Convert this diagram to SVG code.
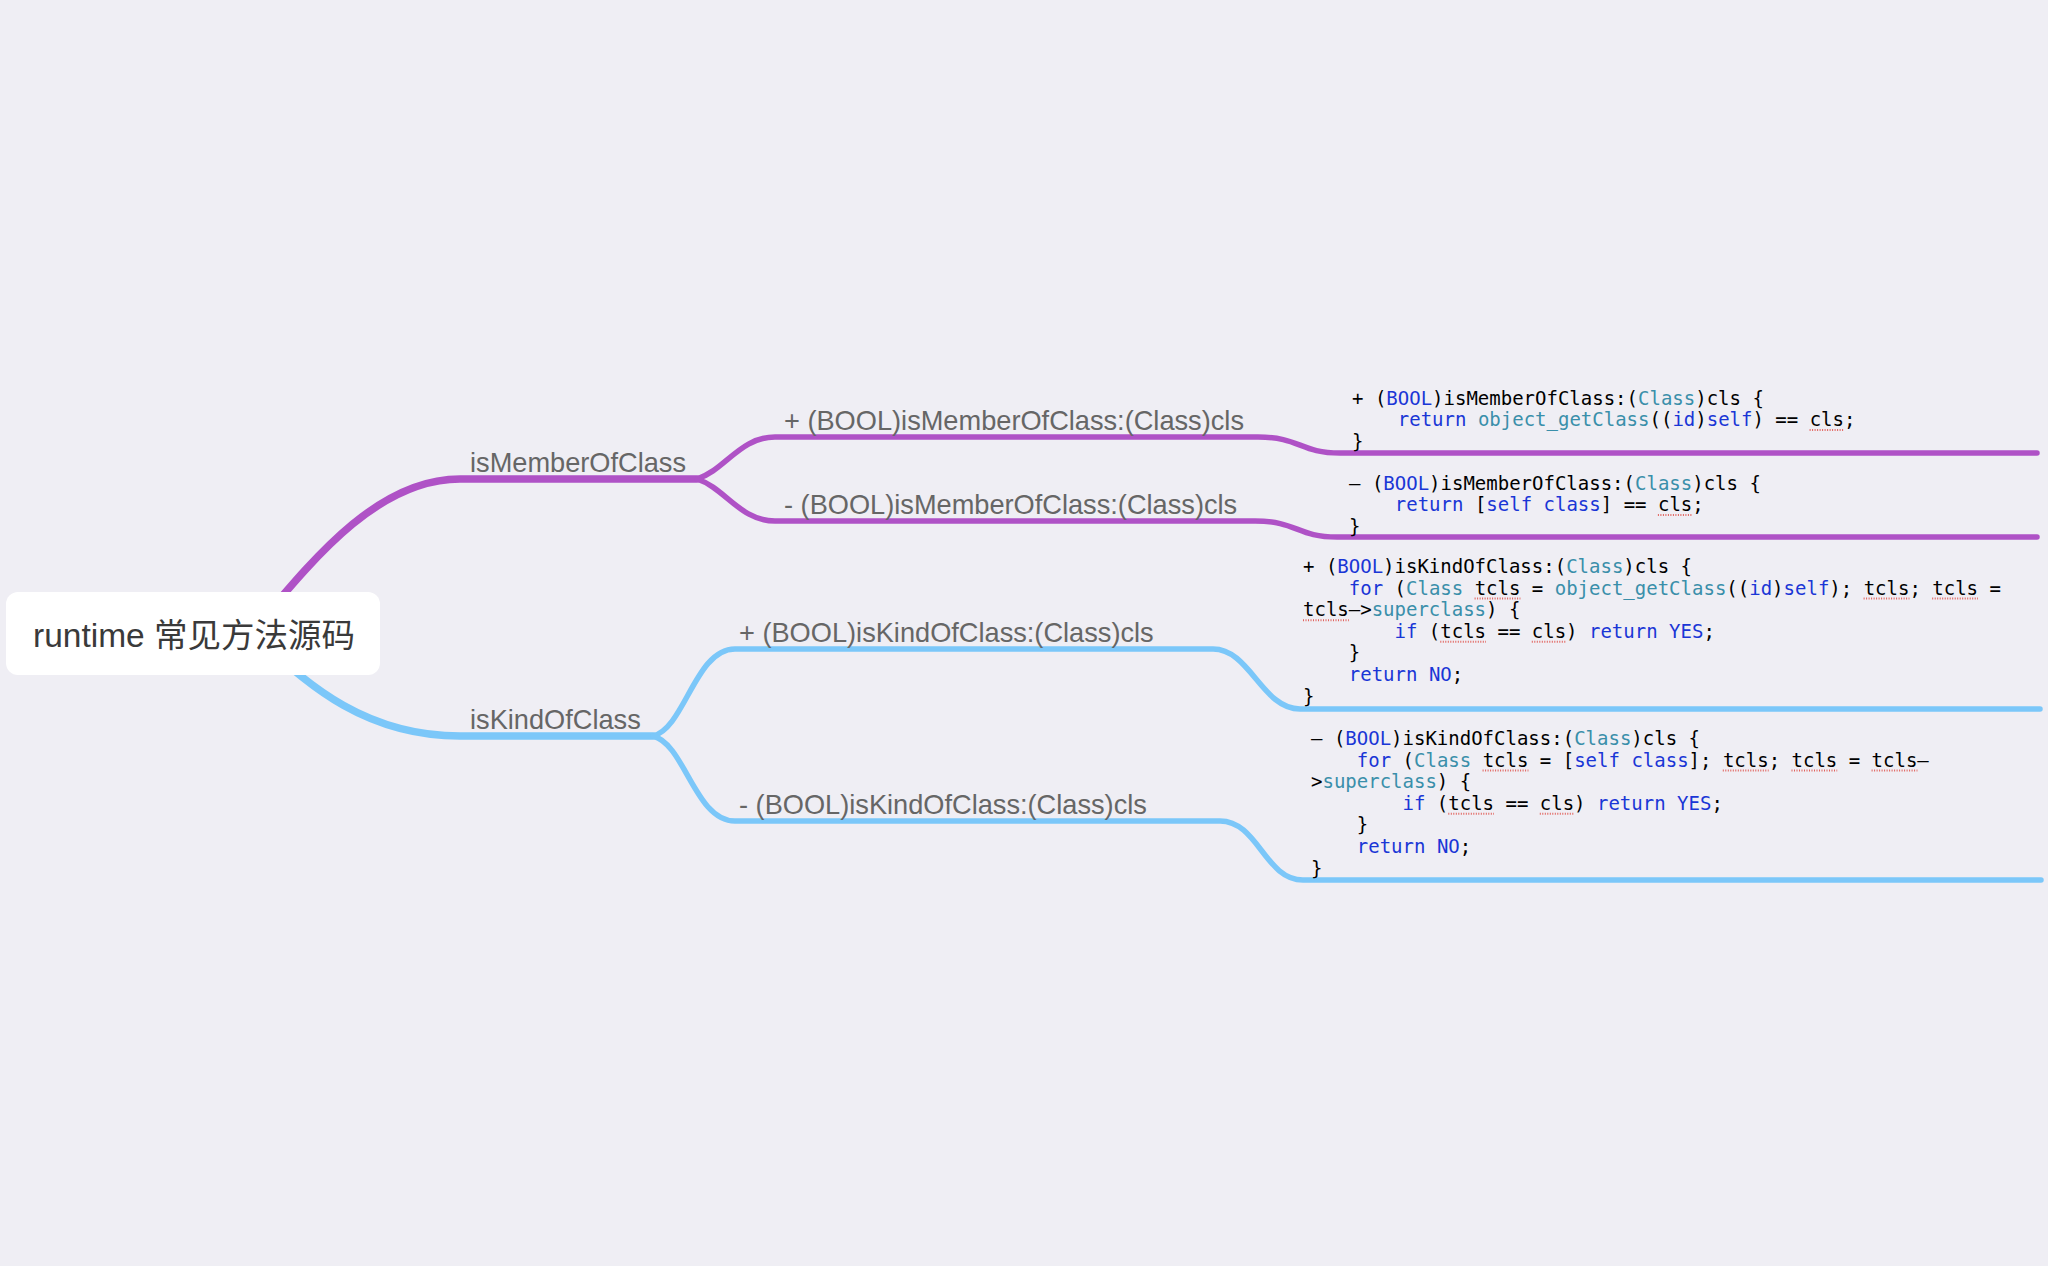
<svg xmlns="http://www.w3.org/2000/svg" width="2048" height="1266" viewBox="0 0 2048 1266">
<style>
.bg{fill:#EFEEF4}
.lp{fill:none;stroke:#AF52C6;stroke-linecap:round;stroke-linejoin:round}
.lb{fill:none;stroke:#7BC7F9;stroke-linecap:round;stroke-linejoin:round}
.main{stroke-width:7.5}
.sub{stroke-width:5.5}
.lbl{font-family:"Liberation Sans",Arial,sans-serif;font-size:27.2px;fill:#666666}
.root{font-family:"Liberation Sans","Noto Sans CJK SC",sans-serif;font-size:33.5px;fill:#3a3a3a}
.code{font-family:"DejaVu Sans Mono","Liberation Mono",monospace;font-size:19px;fill:#000000;white-space:pre}
.k{fill:#1A36D6}
.t{fill:#3A8FAA}
.sp{stroke:#E2625C;stroke-width:2;stroke-dasharray:1 1.5;fill:none}
</style>
<rect class="bg" x="0" y="0" width="2048" height="1266"/>
<g id="connectors">
<path class="lp main" d="M 245 640 C 305 570, 372 479, 460 479 L 697 479"/>
<path class="lb main" d="M 250 630 C 310 690, 370 736, 460 736 L 653 736"/>
<path class="lp sub" d="M 697 479 C 725 470, 740 437, 775 437 L 1258 437 C 1300 437, 1300 453, 1340 453 L 2037 453"/>
<path class="lp sub" d="M 697 479 C 725 488, 740 521, 775 521 L 1255 521 C 1297 521, 1297 537, 1337 537 L 2037 537"/>
<path class="lb sub" d="M 653 736 C 685 728, 695 649, 735 649 L 1213 649 C 1250 649, 1262 709, 1300 709 L 2040 709"/>
<path class="lb sub" d="M 653 736 C 685 744, 695 821, 735 821 L 1220 821 C 1258 821, 1265 880, 1303 880 L 2041 880"/>
</g>
<g id="root">
<rect x="6" y="592" width="374" height="83" rx="12" ry="12" fill="#FFFFFF"/>
<text class="root" x="33" y="647">runtime 常见方法源码</text>
</g>
<g id="isMemberOfClass">
<text class="lbl" x="470" y="472">isMemberOfClass</text>
</g>
<g id="isKindOfClass">
<text class="lbl" x="470" y="729">isKindOfClass</text>
</g>
<g id="plusMember">
<text class="lbl" x="784" y="430">+ (BOOL)isMemberOfClass:(Class)cls</text>
</g>
<g id="minusMember">
<text class="lbl" x="784" y="514">- (BOOL)isMemberOfClass:(Class)cls</text>
</g>
<g id="plusKind">
<text class="lbl" x="739" y="642">+ (BOOL)isKindOfClass:(Class)cls</text>
</g>
<g id="minusKind">
<text class="lbl" x="739" y="814">- (BOOL)isKindOfClass:(Class)cls</text>
</g>
<g id="codePlusMember">
<text class="code" x="1352" y="404.5">+ (<tspan class="k">BOOL</tspan>)isMemberOfClass:(<tspan class="t">Class</tspan>)cls {</text>
<text class="code" x="1397.8" y="426"><tspan class="k">return</tspan> <tspan class="t">object_getClass</tspan>((<tspan class="k">id</tspan>)<tspan class="k">self</tspan>) == cls;</text>
<text class="code" x="1352" y="447.5">}</text>
<path class="sp" d="M 1809.6 430 H 1843.9"/>
</g>
<g id="codeMinusMember">
<text class="code" x="1349" y="489.5">– (<tspan class="k">BOOL</tspan>)isMemberOfClass:(<tspan class="t">Class</tspan>)cls {</text>
<text class="code" x="1394.8" y="511"><tspan class="k">return</tspan> [<tspan class="k">self</tspan> <tspan class="k">class</tspan>] == cls;</text>
<text class="code" x="1349" y="532.5">}</text>
<path class="sp" d="M 1657.9 515 H 1692.2"/>
</g>
<g id="codePlusKind">
<text class="code" x="1303" y="573">+ (<tspan class="k">BOOL</tspan>)isKindOfClass:(<tspan class="t">Class</tspan>)cls {</text>
<text class="code" x="1348.8" y="594.6"><tspan class="k">for</tspan> (<tspan class="t">Class</tspan> tcls = <tspan class="t">object_getClass</tspan>((<tspan class="k">id</tspan>)<tspan class="k">self</tspan>); tcls; tcls =</text>
<text class="code" x="1303" y="616.2">tcls–&gt;<tspan class="t">superclass</tspan>) {</text>
<text class="code" x="1394.5" y="637.8"><tspan class="k">if</tspan> (tcls == cls) <tspan class="k">return</tspan> <tspan class="k">YES</tspan>;</text>
<text class="code" x="1348.8" y="659.4">}</text>
<text class="code" x="1348.8" y="681"><tspan class="k">return</tspan> <tspan class="k">NO</tspan>;</text>
<text class="code" x="1303" y="702.6">}</text>
<path class="sp" d="M 1474.6 598.6 H 1520.4 M 1863.6 598.6 H 1909.4 M 1932.2 598.6 H 1978 M 1303 620.2 H 1348.8 M 1440.3 641.8 H 1486 M 1531.8 641.8 H 1566.1"/>
</g>
<g id="codeMinusKind">
<text class="code" x="1311" y="745">– (<tspan class="k">BOOL</tspan>)isKindOfClass:(<tspan class="t">Class</tspan>)cls {</text>
<text class="code" x="1356.8" y="766.6"><tspan class="k">for</tspan> (<tspan class="t">Class</tspan> tcls = [<tspan class="k">self</tspan> <tspan class="k">class</tspan>]; tcls; tcls = tcls–</text>
<text class="code" x="1311" y="788.2">&gt;<tspan class="t">superclass</tspan>) {</text>
<text class="code" x="1402.5" y="809.8"><tspan class="k">if</tspan> (tcls == cls) <tspan class="k">return</tspan> <tspan class="k">YES</tspan>;</text>
<text class="code" x="1356.8" y="831.4">}</text>
<text class="code" x="1356.8" y="853"><tspan class="k">return</tspan> <tspan class="k">NO</tspan>;</text>
<text class="code" x="1311" y="874.6">}</text>
<path class="sp" d="M 1482.6 770.6 H 1528.4 M 1722.8 770.6 H 1768.6 M 1791.5 770.6 H 1837.2 M 1871.6 770.6 H 1917.4 M 1448.3 813.8 H 1494 M 1539.8 813.8 H 1574.1"/>
</g>
</svg>
